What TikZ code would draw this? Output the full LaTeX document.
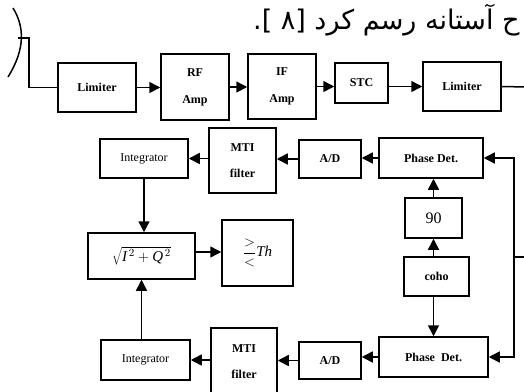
\documentclass[tikz,border=0pt]{standalone}
\usepackage{fontspec}
\setmainfont{Liberation Serif}
\newfontfamily\arabicfont[Script=Arabic]{DejaVu Sans}
\TeXXeTstate=1
\usetikzlibrary{arrows.meta}

\begin{document}
\begin{tikzpicture}[x=1pt,y=-1pt,
  blk/.style={draw, line width=1.5pt, inner sep=0pt, align=center,
              font=\fontsize{12}{14}\selectfont\bfseries},
  plainblk/.style={blk, font=\fontsize{12}{14}\selectfont},
  wire/.style={line width=1.5pt},
  arr/.style={wire, -{Triangle[length=11pt,width=11pt]}}]
\useasboundingbox (0,0) rectangle (524,391);

% sentence fragment above the chain
\node[anchor=base west, inner sep=0pt,
      font=\arabicfont\fontsize{27}{30}\selectfont] (note) at (253,29)
  {\beginR ح آستانه رسم کرد [۸ ].\endR};

% receiver chain
\node[blk, minimum width=78pt, minimum height=49pt] (lim1) at (97,87.5) {Limiter};
\node[blk, minimum width=68pt, minimum height=66pt] (rf)   at (195,87)  {RF\\[13pt]Amp};
\node[blk, minimum width=68pt, minimum height=65pt] (ifa)  at (282,86.5) {IF\\[13pt]Amp};
\node[blk, minimum width=53pt, minimum height=40pt] (stc)  at (361.5,83) {STC};
\node[blk, minimum width=78pt, minimum height=49pt] (lim2) at (462,86.5) {Limiter};

% I channel
\node[plainblk, minimum width=88pt, minimum height=39pt] (intA) at (144,158.5) {Integrator};
\node[blk, minimum width=67pt, minimum height=65pt] (mtiA) at (242.5,160.5) {MTI\\[12pt]filter};
\node[blk, minimum width=62pt, minimum height=38pt] (adA)  at (330,159) {A/D};
\node[blk, minimum width=104pt, minimum height=40pt] (pdA) at (431,158) {Phase Det.};

% oscillator and shifter
\node[plainblk, minimum width=57pt, minimum height=40pt, font=\fontsize{16}{18}\selectfont] (ninety) at (433.5,218) {90};
\node[blk, minimum width=65pt, minimum height=39pt] (coho) at (436.5,276.5) {coho};

% Q channel
\node[blk, minimum width=109pt, minimum height=40pt] (pdB) at (433.5,357) {Phase\ \ Det.};
\node[blk, minimum width=62pt, minimum height=37pt] (adB)  at (330,360.5) {A/D};
\node[blk, minimum width=66pt, minimum height=68pt] (mtiB) at (244,362) {MTI\\[12pt]filter};
\node[plainblk, minimum width=89pt, minimum height=40pt] (intB) at (145.5,360) {Integrator};

% envelope and threshold
\node[plainblk, minimum width=107pt, minimum height=46pt, font=\fontsize{15}{17}\selectfont] (sq) at (141.5,256)
  {$\sqrt{\mathit{I}^{\,2}+\mathit{Q}^{\,2}}$};
\node[plainblk, minimum width=71pt, minimum height=66pt, font=\fontsize{15}{17}\selectfont] (th) at (257.5,253)
  {${\displaystyle\frac{>}{<}}\mathit{Th}$};

% antenna and feed
\draw[wire] (13,8) .. controls (24,26) and (26,48) .. (8,77);
\coordinate (ant) at (18,38);
\draw[wire] (ant) -- (29,38) |- (lim1.west);

% chain connectors
\draw[arr] (lim1.east) -- (lim1.east -| rf.west);
\draw[arr] (rf.east) -- (rf.east -| ifa.west);
\draw[arr] (ifa.east) -- (ifa.east -| stc.west);
\draw[arr] (ifa.east -| stc.east) -- (ifa.east -| lim2.west);
\coordinate (out) at (526,87);
\draw[wire] (lim2.east) -- (out);

% reference feed to both detectors
\coordinate (fin) at (526,257);
\coordinate (fj) at (514,257);
\draw[wire] (fin) -- (fj);
\draw[arr] (fj) |- (pdA.east);
\draw[arr] (fj) |- (pdB.east);

% oscillator paths
\draw[arr] (coho.north -| ninety.south) -- (ninety.south);
\draw[arr] (ninety.north) -- (ninety.north |- pdA.south);
\draw[arr] (coho.south -| pdB.north) -- (pdB.north);

% I channel connectors
\draw[arr] (pdA.west) -- (pdA.west -| adA.east);
\draw[arr] (adA.west) -- (adA.west -| mtiA.east);
\draw[arr] (mtiA.west |- intA.east) -- (intA.east);
\draw[arr] (intA.south) -- (intA.south |- sq.north);

% Q channel connectors
\draw[arr] (pdB.west) -- (pdB.west -| adB.east);
\draw[arr] (adB.west) -- (adB.west -| mtiB.east);
\draw[arr] (mtiB.west |- intB.east) -- (intB.east);
\draw[arr] (intB.north -| sq.south) -- (sq.south);

% envelope to threshold
\draw[arr] ([yshift=4pt]sq.east) -- ([yshift=4pt]sq.east -| th.west);
\end{tikzpicture}
\end{document}
